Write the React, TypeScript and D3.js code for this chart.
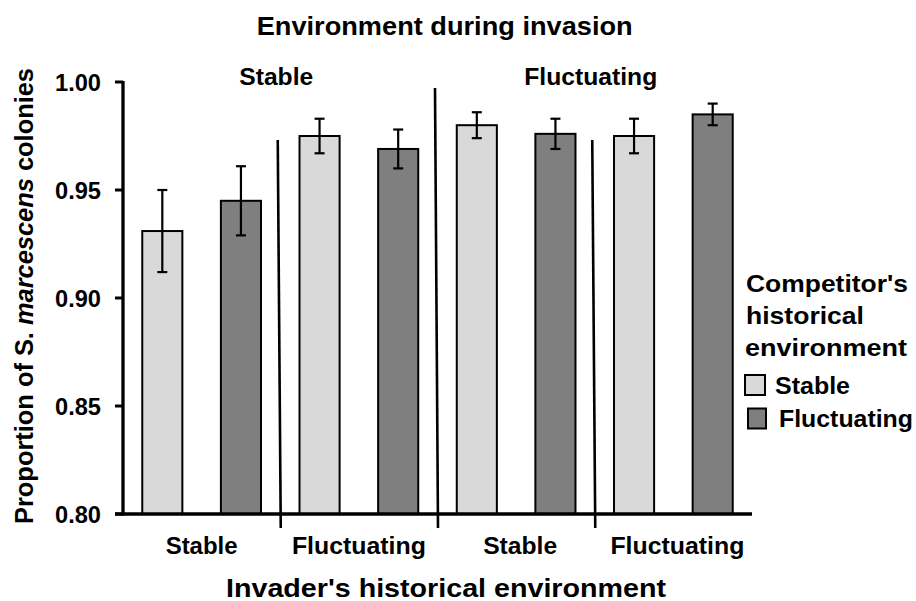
import React from "react";
import * as d3 from "d3";

const invasionEnv = ["Stable", "Fluctuating"];
const invaderEnv = ["Stable", "Fluctuating", "Stable", "Fluctuating"];
const competitorEnv = ["Stable", "Fluctuating"];
const stableCompMean = [0.931, 0.975, 0.98, 0.975];
const stableCompErr = [0.019, 0.008, 0.006, 0.008];
const fluctCompMean = [0.945, 0.969, 0.976, 0.985];
const fluctCompErr = [0.016, 0.009, 0.007, 0.005];
const yTicks = [0.8, 0.85, 0.9, 0.95, 1.0];

const W = 916;
const H = 601;
const FONT = "'Liberation Sans', Arial, sans-serif";
const colors = ["#d9d9d9", "#7f7f7f"];

export default function App() {
  const bars = invaderEnv.flatMap((g, gi) => [
    { key: `${gi}-0`, group: gi, comp: 0, mean: stableCompMean[gi], err: stableCompErr[gi] },
    { key: `${gi}-1`, group: gi, comp: 1, mean: fluctCompMean[gi], err: fluctCompErr[gi] },
  ]);

  const x = d3
    .scaleBand<string>()
    .domain(bars.map((b) => b.key))
    .range([123, 752])
    .paddingInner(0.49)
    .paddingOuter(0.245);
  const y = d3.scaleLinear().domain([0.8, 1.0]).range([514, 82]);
  const bw = x.bandwidth();
  const step = x.step();
  const gap = (step - bw) / 2;
  const boundary = (i: number) => (x(bars[i].key) as number) - gap;
  const groupCenter = (gi: number) =>
    ((x(bars[gi * 2].key) as number) + (x(bars[gi * 2 + 1].key) as number) + bw) / 2;
  const halfCenter = (hi: number) => (boundary(hi * 4) + (hi === 0 ? boundary(4) : 752)) / 2;

  const fmt = d3.format(".2f");
  const yBase = y(0.8);

  const headerWidths = [74, 133];
  const bottomWidths = [72, 134, 74, 134];

  return (
    <svg
      width={W}
      height={H}
      style={{ position: "absolute", left: 0, top: 0, background: "#fff" }}
      fontFamily={FONT}
      fontWeight="bold"
    >
      {/* Title */}
      <text x={444.7} y={35} fontSize={26} textAnchor="middle" textLength={376} lengthAdjust="spacingAndGlyphs">
        Environment during invasion
      </text>
      {invasionEnv.map((t, i) => (
        <text
          key={t}
          x={halfCenter(i) - 4}
          y={85}
          fontSize={23}
          textAnchor="middle"
          textLength={headerWidths[i]}
          lengthAdjust="spacingAndGlyphs"
        >
          {t}
        </text>
      ))}

      {/* Bars */}
      {bars.map((b) => (
        <rect
          key={b.key}
          x={x(b.key)}
          y={y(b.mean)}
          width={bw}
          height={yBase - y(b.mean)}
          fill={colors[b.comp]}
          stroke="#000"
          strokeWidth={2}
        />
      ))}
      {/* Error bars */}
      {bars.map((b) => {
        const cx = (x(b.key) as number) + bw / 2;
        return (
          <g key={"e" + b.key} stroke="#000" strokeWidth={2.2}>
            <line x1={cx} x2={cx} y1={y(b.mean + b.err)} y2={y(b.mean - b.err)} />
            <line x1={cx - 5} x2={cx + 5} y1={y(b.mean + b.err)} y2={y(b.mean + b.err)} />
            <line x1={cx - 5} x2={cx + 5} y1={y(b.mean - b.err)} y2={y(b.mean - b.err)} />
          </g>
        );
      })}

      {/* Dividers */}
      {[2, 4, 6].map((i) => {
        const bx = boundary(i);
        return (
          <line
            key={"d" + i}
            x1={bx - 2.5}
            y1={i === 4 ? 88 : 140}
            x2={bx + 0.5}
            y2={528}
            stroke="#000"
            strokeWidth={2.6}
          />
        );
      })}

      {/* Axes */}
      <line x1={123} x2={123} y1={y(1.0) - 1} y2={yBase + 1.5} stroke="#000" strokeWidth={3.3} />
      <line x1={115} x2={752} y1={yBase} y2={yBase} stroke="#000" strokeWidth={3.6} />
      {yTicks.map((t) => (
        <g key={"t" + t}>
          <line x1={115} x2={123} y1={y(t)} y2={y(t)} stroke="#000" strokeWidth={3} />
          <text x={101} y={y(t) + 8.5} fontSize={24} textAnchor="end" textLength={46} lengthAdjust="spacingAndGlyphs">
            {fmt(t)}
          </text>
        </g>
      ))}

      {/* Y label */}
      <text transform={`translate(33,296) rotate(-90)`} fontSize={25} textAnchor="middle" textLength={456} lengthAdjust="spacingAndGlyphs">
        Proportion of S. <tspan fontStyle="italic">marcescens</tspan> colonies
      </text>

      {/* X category labels */}
      {invaderEnv.map((t, gi) => (
        <text
          key={"x" + gi}
          x={groupCenter(gi) + (gi >= 2 ? 4 : 0)}
          y={554}
          fontSize={23}
          textAnchor="middle"
          textLength={bottomWidths[gi]}
          lengthAdjust="spacingAndGlyphs"
        >
          {t}
        </text>
      ))}
      <text x={446} y={596.5} fontSize={26} textAnchor="middle" textLength={440} lengthAdjust="spacingAndGlyphs">
        Invader's historical environment
      </text>

      {/* Legend */}
      <text x={746} y={291.7} fontSize={24} textLength={162} lengthAdjust="spacingAndGlyphs">
        Competitor's
      </text>
      <text x={746} y={323.5} fontSize={24} textLength={118} lengthAdjust="spacingAndGlyphs">
        historical
      </text>
      <text x={745} y={356} fontSize={24} textLength={162} lengthAdjust="spacingAndGlyphs">
        environment
      </text>
      {competitorEnv.map((t, i) => (
        <g key={"l" + t}>
          <rect
            x={i === 0 ? 745 : 748}
            y={i === 0 ? 375 : 408.5}
            width={i === 0 ? 20 : 18}
            height={20}
            fill={colors[i]}
            stroke="#000"
            strokeWidth={2}
          />
          <text
            x={i === 0 ? 775 : 779}
            y={i === 0 ? 394 : 426.5}
            fontSize={23}
            textLength={i === 0 ? 75 : 134}
            lengthAdjust="spacingAndGlyphs"
          >
            {t}
          </text>
        </g>
      ))}
    </svg>
  );
}
